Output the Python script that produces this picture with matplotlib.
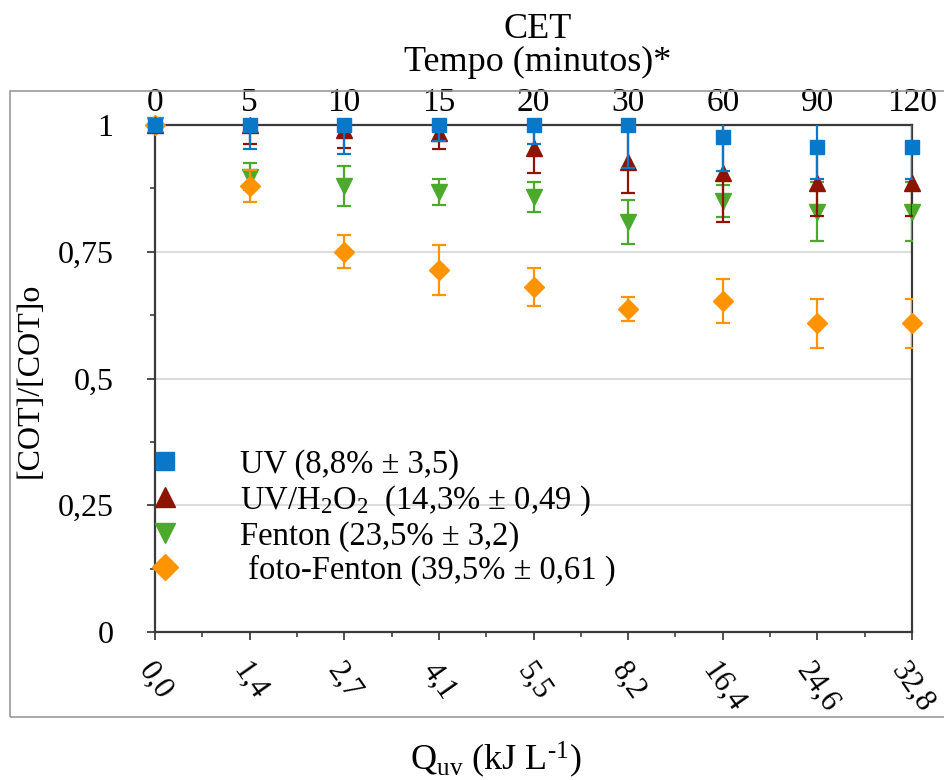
import matplotlib
matplotlib.use("Agg")
import matplotlib.pyplot as plt
from matplotlib.lines import Line2D
from matplotlib.patches import Rectangle
from matplotlib.ticker import FixedLocator, MultipleLocator

plt.rcParams["font.family"] = ["Liberation Serif", "DejaVu Serif"]
plt.rcParams["mathtext.fontset"] = "custom"
plt.rcParams["mathtext.rm"] = "Liberation Serif"
plt.rcParams["mathtext.it"] = "Liberation Serif:italic"

# Sampling points
qu_labels = ["0,0", "1,4", "2,7", "4,1", "5,5", "8,2", "16,4", "24,6", "32,8"]
time_labels = ["0", "5", "10", "15", "20", "30", "60", "90", "120"]

# Normalised TOC, [COT]/[COT]o, with standard deviations
uv = [1.0, 1.0, 1.0, 1.0, 1.0, 1.0, 0.976, 0.956, 0.956]
uv_err = [0.0, 0.047, 0.057, 0.032, 0.037, 0.085, 0.067, 0.062, 0.062]

uvh2o2 = [1.0, 1.0, 0.99, 0.985, 0.955, 0.927, 0.905, 0.886, 0.886]
uvh2o2_err = [0.0, 0.037, 0.035, 0.032, 0.05, 0.061, 0.096, 0.065, 0.065]

fenton = [1.0, 0.898, 0.880, 0.868, 0.858, 0.809, 0.850, 0.829, 0.829]
fenton_err = [0.0, 0.027, 0.039, 0.025, 0.029, 0.043, 0.031, 0.058, 0.058]

foto_fenton = [1.0, 0.880, 0.750, 0.714, 0.680, 0.637, 0.653, 0.609, 0.609]
foto_fenton_err = [0.0, 0.032, 0.033, 0.050, 0.037, 0.024, 0.043, 0.048, 0.048]

legend_labels = [
    "UV (8,8% ± 3,5)",
    r"UV/H$_{\mathregular{2}}$O$_{\mathregular{2}}$  (14,3% ± 0,49 )",
    "Fenton (23,5% ± 3,2)",
    " foto-Fenton (39,5% ± 0,61 )",
]

c_uv = "#0A78C8"
c_h2o2 = "#8C1400"
c_fen = "#4CAA2A"
c_foto = "#FF9400"

fig = plt.figure(figsize=(9.44, 7.8), dpi=100)

# Outer grey frame around the plot block
fig.patches.append(Rectangle((10 / 944, 63 / 780), 0.999, 626 / 780,
                             transform=fig.transFigure, fill=False,
                             edgecolor="#9a9a9a", linewidth=1.2,
                             clip_on=False))

ax = fig.add_axes([155 / 944, 1 - 632 / 780, (912 - 155) / 944, (632 - 125) / 780])

x = list(range(len(qu_labels)))

series = [
    (fenton, fenton_err, c_fen, "v", 11, 3),
    (foto_fenton, foto_fenton_err, c_foto, "D", 10, 4),
    (uvh2o2, uvh2o2_err, c_h2o2, "^", 11, 5),
    (uv, uv_err, c_uv, "s", 10, 6),
]
for vals, errs, col, mk, ms, z in series:
    line, caps, bars = ax.errorbar(x, vals, yerr=errs, fmt=mk, color=col,
                                   markersize=ms, ecolor=col, elinewidth=1.6,
                                   capsize=5, capthick=1.6, zorder=z)
    line.set_clip_on(False)

ax.set_xlim(0, 8)
ax.set_ylim(0, 1)

ax.yaxis.set_major_locator(FixedLocator([0, 0.25, 0.5, 0.75, 1.0]))
ax.set_yticklabels(["0", "0,25", "0,5", "0,75", "1"], fontsize=23)
ax.yaxis.set_minor_locator(MultipleLocator(0.125))
ax.grid(axis="y", which="major", color="#dcdcdc", linewidth=1.5, zorder=0)
ax.set_axisbelow(True)

ax.set_xticks(x)
ax.set_xticklabels(qu_labels, fontsize=22, rotation=-55,
                   ha="center", va="top")
ax.xaxis.set_minor_locator(MultipleLocator(0.5))

ax.tick_params(axis="both", which="major", direction="out", length=6,
               width=1.3, color="#404040")
ax.tick_params(axis="both", which="minor", direction="out", length=3.5,
               width=1.2, color="#404040")
ax.tick_params(axis="x", which="major", pad=12)
ax.tick_params(axis="y", which="major", pad=24)

for side in ["left", "right", "top", "bottom"]:
    ax.spines[side].set_color("#3a3a3a")
    ax.spines[side].set_linewidth(1.6)

# Time axis on top
ax2 = ax.twiny()
ax2.set_xlim(ax.get_xlim())
ax2.set_xticks(x)
ax2.set_xticklabels(time_labels, fontsize=24)
ax2.tick_params(axis="x", length=0, pad=5)
for side in ["left", "right", "top", "bottom"]:
    ax2.spines[side].set_visible(False)

fig.text(538 / 944, 1 - 30 / 780, "CET", ha="center", va="center", fontsize=26)
fig.text(538 / 944, 1 - 62 / 780, "Tempo (minutos)*", ha="center",
         va="center", fontsize=26)

fig.text(30 / 944, 1 - 380 / 780, "[COT]/[COT]o", rotation=90,
         ha="center", va="center", fontsize=23)
fig.text(496 / 944, 1 - 760 / 780,
         r"Q$_{\mathregular{uv}}$ (kJ L$^{\text{-1}}$)",
         ha="center", va="center", fontsize=26)

handles = [
    Line2D([], [], marker="s", color=c_uv, linestyle="none", markersize=13),
    Line2D([], [], marker="^", color=c_h2o2, linestyle="none", markersize=14),
    Line2D([], [], marker="v", color=c_fen, linestyle="none", markersize=14),
    Line2D([], [], marker="D", color=c_foto, linestyle="none", markersize=13),
]
leg = ax.legend(handles, legend_labels, loc="upper left",
                bbox_to_anchor=(149 / 944, 1 - 449 / 780),
                bbox_transform=fig.transFigure, frameon=False, fontsize=23.5,
                handletextpad=1.8, labelspacing=0.1, borderpad=0,
                borderaxespad=0, handlelength=1.0)
leg.set_zorder(10)

fig.savefig("out.png", dpi=100)
